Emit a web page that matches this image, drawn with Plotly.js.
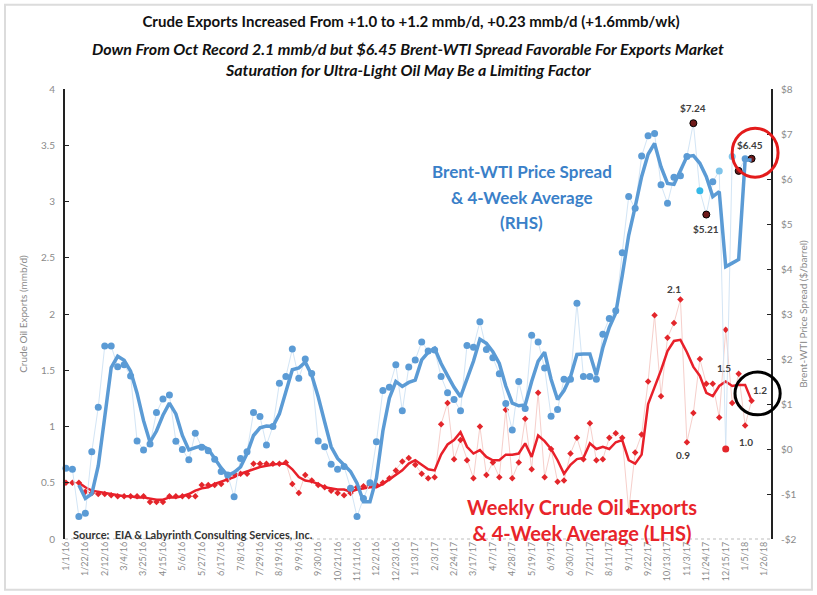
<!DOCTYPE html>
<html>
<head>
<meta charset="utf-8">
<script src="https://cdn.plot.ly/plotly-3.0.1.min.js"></script>
<style>html,body{margin:0;padding:0;background:#fff;}#chart{width:817px;height:595px;}</style>
</head>
<body>
<div id="chart"></div>
<script>
// ---------- DATA ----------
const firstWeek = '2016-01-01';   // weekly observations, one per week
const tickLabels = ['1/1/16','1/22/16','2/12/16','3/4/16','3/25/16','4/15/16','5/6/16','5/27/16','6/17/16','7/8/16','7/29/16','8/19/16','9/9/16','9/30/16','10/21/16','11/11/16','12/2/16','12/23/16','1/13/17','2/3/17','2/24/17','3/17/17','4/7/17','4/28/17','5/19/17','6/9/17','6/30/17','7/21/17','8/11/17','9/1/17','9/22/17','10/13/17','11/3/17','11/24/17','12/15/17','1/5/18','1/26/18'];

// Brent-WTI spread, weekly ($/bbl, RHS)
const spreadWeekly = [-0.43,-0.45,-1.50,-1.43,-0.06,0.93,2.29,2.29,1.83,1.87,
 1.62,0.18,-0.02,0.11,0.81,1.11,1.20,0.17,-0.01,-0.24,
 0.35,0.04,-0.04,-0.23,-0.50,-0.58,-1.06,-0.21,-0.06,0.81,
 0.72,0.09,0.50,1.46,1.61,2.22,1.57,2.00,1.68,0.18,
 0.05,-0.34,-0.45,-0.39,-0.87,-1.50,-1.10,-0.75,0.16,1.30,
 1.37,1.87,0.85,1.82,1.98,2.38,2.18,2.20,1.61,1.25,
 1.10,0.85,2.30,2.26,2.83,2.21,2.03,1.67,1.01,0.42,
 1.50,0.90,2.53,2.38,1.80,0.73,0.88,1.55,1.55,3.24,
 1.61,1.61,1.55,2.55,2.90,3.07,4.36,5.61,5.35,6.51,
 6.96,7.01,5.87,5.46,6.04,6.07,6.50,7.24,5.74,5.21,
 5.94,6.18,0.00,6.50,6.18,6.45,6.45];

// Brent-WTI spread, 4-week average ($/bbl, RHS)
const spreadAvg = [null,null,-0.80,-1.10,-1.00,-0.37,0.71,1.81,2.06,1.97,
 1.73,1.24,0.63,0.15,0.40,0.75,1.02,0.78,0.30,-0.02,
 0.03,0.07,0.00,-0.22,-0.42,-0.59,-0.52,-0.40,-0.10,0.30,
 0.47,0.51,0.50,0.78,1.30,1.76,1.80,1.93,1.64,1.16,
 0.60,0.05,-0.21,-0.36,-0.50,-0.76,-1.17,-1.17,-0.65,0.40,
 1.13,1.50,1.39,1.48,1.53,1.98,2.15,2.24,1.90,1.63,
 1.37,1.16,1.53,1.95,2.44,2.35,2.16,1.90,1.40,1.02,
 0.96,0.98,1.50,1.95,2.15,1.55,1.10,1.30,1.60,2.10,
 2.11,2.11,1.64,2.25,2.70,3.02,3.85,4.75,5.38,6.05,
 6.55,6.79,6.27,5.90,5.88,6.18,6.50,6.52,6.35,6.05,
 5.61,5.72,4.05,4.13,4.21,6.42,6.42];

// Weekly crude oil exports (mmb/d, LHS)
const exportsWeekly = [0.50,0.50,0.50,0.42,0.41,0.40,0.40,0.39,0.38,0.38,
 0.38,0.38,0.38,0.33,0.33,0.33,0.38,0.38,0.38,0.38,
 0.38,0.48,0.48,0.48,0.49,0.53,0.58,0.58,0.58,0.67,
 0.67,0.67,0.67,0.67,0.68,0.49,0.41,0.57,0.52,0.48,
 0.46,0.43,0.41,0.39,0.41,0.46,0.47,0.48,0.48,0.50,
 0.54,0.61,0.69,0.72,0.66,0.58,0.54,0.55,1.02,1.21,
 0.71,0.88,0.70,0.54,1.00,0.57,0.68,0.55,1.15,0.54,
 0.68,1.07,0.62,1.30,0.55,0.80,0.51,0.52,0.76,0.90,
 0.71,1.03,0.70,0.71,0.90,0.94,0.90,0.25,0.77,0.93,
 1.40,1.99,1.27,1.79,1.92,2.13,0.86,1.12,1.60,1.38,
 1.38,1.08,1.86,1.21,1.47,1.01,1.23];

// Exports, 4-week average (mmb/d, LHS)
const exportsAvg = [null,null,0.50,0.46,0.43,0.42,0.41,0.40,0.39,0.38,
 0.38,0.37,0.37,0.36,0.35,0.35,0.37,0.37,0.38,0.40,
 0.43,0.45,0.46,0.49,0.51,0.53,0.55,0.58,0.60,0.62,
 0.64,0.65,0.66,0.67,0.67,0.62,0.55,0.52,0.51,0.49,
 0.46,0.45,0.44,0.44,0.42,0.44,0.45,0.46,0.46,0.49,
 0.53,0.57,0.61,0.67,0.70,0.66,0.62,0.61,0.75,0.84,
 0.88,0.95,0.82,0.76,0.79,0.73,0.70,0.70,0.75,0.75,
 0.76,0.85,0.73,0.92,0.87,0.80,0.70,0.58,0.66,0.71,
 0.72,0.85,0.80,0.82,0.80,0.86,0.88,0.70,0.67,0.75,
 1.20,1.35,1.50,1.67,1.76,1.77,1.66,1.53,1.45,1.30,
 1.27,1.36,1.40,1.36,1.37,1.37,1.23];

const spreadTicks = [-2,-1,0,1,2,3,4,5,6,7,8];
const spreadTickLabels = ['-$2','-$1','$0','$1','$2','$3','$4','$5','$6','$7','$8'];

// ---------- helpers ----------
const DAY = 86400000;
const t0 = Date.parse(firstWeek + 'T00:00:00Z');
const iso = ms => new Date(ms).toISOString().slice(0, 10);
const weeks = spreadWeekly.map((_, i) => iso(t0 + i * 7 * DAY));
const parseLabel = s => { const [m, d, y] = s.split('/').map(Number); return iso(Date.UTC(2000 + y, m - 1, d)); };
const tickDates = tickLabels.map(parseLabel);

// marker styling of highlighted spread points (style only)
const BLUE = '#5b9bd5', DARK = '#6e1a1a', CYAN = '#36b9e8', LIGHT = '#7fc4ea', RED = '#e3262b';
const specialColor = {97: DARK, 99: DARK, 104: DARK, 106: DARK, 98: CYAN, 101: LIGHT, 103: LIGHT, 102: RED};
const spreadColors = spreadWeekly.map((_, i) => specialColor[i] || BLUE);
const spreadLineColors = spreadWeekly.map((_, i) => (specialColor[i] === DARK ? '#000' : 'rgba(0,0,0,0)'));

const FONT = 'Lato, "Open Sans", sans-serif';

const traces = [
  { x: weeks, y: spreadWeekly, yaxis: 'y2', type: 'scatter', mode: 'lines+markers', cliponaxis: false,
    line: { color: '#d3e5f5', width: 1 },
    marker: { color: spreadColors, size: 7, line: { color: spreadLineColors, width: 1 } } },
  { x: weeks, y: exportsWeekly, yaxis: 'y', type: 'scatter', mode: 'lines+markers', cliponaxis: false,
    line: { color: '#f6cfcb', width: 1 },
    marker: { color: RED, size: 5, symbol: 'diamond' } },
  { x: weeks, y: exportsAvg, yaxis: 'y', type: 'scatter', mode: 'lines',
    line: { color: '#e8202a', width: 2.5 } },
  { x: weeks, y: spreadAvg, yaxis: 'y2', type: 'scatter', mode: 'lines',
    line: { color: BLUE, width: 3.5 } }
];

const labelFont = { family: FONT, size: 10, color: '#404040' };
const P = (text, x, y, font, extra) => Object.assign({ text, xref: 'paper', yref: 'paper', x, y,
  xanchor: 'center', yanchor: 'middle', showarrow: false, font }, extra || {});
const titleFont = { family: FONT, size: 16, color: '#111' };
const blueFont = { family: FONT, size: 17, color: '#3a80c8' };
const redFont = { family: FONT, size: 20, color: '#e8242a' };
const D = (text, x, y, yref, xs, ys) => ({ text, x, y, yref, showarrow: false, xanchor: 'center', yanchor: 'middle',
  xshift: xs, yshift: ys, font: labelFont });

const annotations = [
  P('<b><i>Down From Oct Record 2.1 mmb/d but $6.45 Brent-WTI Spread Favorable For Exports Market</i></b>', 0.486, 1.091, titleFont),
  P('<b><i>Saturation for Ultra-Light Oil May Be a Limiting Factor</i></b>', 0.486, 1.044, titleFont),
  P('<b>Brent-WTI Price Spread</b>', 0.647, 0.816, blueFont),
  P('<b>& 4-Week Average</b>', 0.647, 0.760, blueFont),
  P('<b>(RHS)</b>', 0.647, 0.704, blueFont),
  P('<b>Weekly Crude Oil Exports<br>& 4-Week Average (LHS)</b>', 0.732, 0.042, redFont),
  P('<b>Source:  EIA & Labyrinth Consulting Services, Inc.</b>', 0.009, 0.009,
    { family: FONT, size: 11, color: '#333' }, { xanchor: 'left' }),
  D('<b>$7.24</b>', weeks[97], spreadWeekly[97], 'y2', 0, 15),
  D('<b>$5.21</b>', weeks[99], spreadWeekly[99], 'y2', 0, -14),
  D('<b>$6.45</b>', weeks[106], spreadWeekly[106], 'y2', -2, 14),
  D('<b>2.1</b>', weeks[95], exportsWeekly[95], 'y', -6, 10),
  D('<b>0.9</b>', weeks[96], exportsWeekly[96], 'y', -4, -13),
  D('<b>1.5</b>', weeks[102], exportsAvg[102], 'y', -2, 14),
  D('<b>1.2</b>', weeks[106], exportsAvg[106], 'y', 8, 11),
  D('<b>1.0</b>', weeks[105], exportsWeekly[105], 'y', 1, -17)
];

const shapes = [
  { type: 'rect', xref: 'paper', yref: 'paper', x0: -0.085, x1: 1.058, y0: -0.113, y1: 1.187,
    line: { color: '#dcdcdc', width: 2 }, layer: 'below' },
  { type: 'line', xref: 'paper', yref: 'paper', x0: 0, x1: 1, y0: 0, y1: 0,
    line: { color: '#bdbdbd', width: 1, dash: 'dot' } },
  { type: 'circle', xref: 'paper', yref: 'paper', x0: 0.945, x1: 1.010, y0: 0.804, y1: 0.913,
    line: { color: '#e31b1b', width: 3 } },
  { type: 'circle', xref: 'paper', yref: 'paper', x0: 0.949, x1: 1.013, y0: 0.276, y1: 0.371,
    line: { color: '#000', width: 3 } }
];

const layout = {
  width: 817, height: 595,
  margin: { l: 65, r: 46, t: 89, b: 56 },
  paper_bgcolor: '#fff', plot_bgcolor: '#fff',
  showlegend: false,
  font: { family: FONT },
  title: { text: '<b>Crude Exports Increased From +1.0 to +1.2 mmb/d, +0.23 mmb/d (+1.6mmb/wk)</b>',
    x: 411 / 817, xref: 'container', xanchor: 'center', y: 1 - 22 / 595, yanchor: 'middle',
    font: { family: FONT, size: 15, color: '#111' } },
  xaxis: {
    type: 'date', range: [iso(t0 - DAY), iso(t0 + 763 * DAY)],
    tickvals: tickDates, ticktext: tickLabels, tickangle: -90,
    tickfont: { family: FONT, size: 9, color: '#8a8a8a' },
    showgrid: false, zeroline: false, showline: false, ticks: ''
  },
  yaxis: {
    range: [0, 4], dtick: 0.5, showgrid: false, zeroline: false,
    showline: true, linecolor: '#222', linewidth: 2, ticks: 'inside', ticklen: 4, tickcolor: '#222',
    tickfont: { family: FONT, size: 10, color: '#8a8a8a' }, ticklabelstandoff: 6,
    title: { text: 'Crude Oil Exports (mmb/d)', font: { family: FONT, size: 10, color: '#8a8a8a' }, standoff: 12 }
  },
  yaxis2: {
    overlaying: 'y', side: 'right', range: [-2, 8],
    tickvals: spreadTicks, ticktext: spreadTickLabels,
    showgrid: false, zeroline: false,
    showline: true, linecolor: '#222', linewidth: 2, ticks: 'inside', ticklen: 4, tickcolor: '#222',
    tickfont: { family: FONT, size: 10, color: '#8a8a8a' }, ticklabelstandoff: 6,
    title: { text: 'Brent-WTI Price Spread ($/barrel)', font: { family: FONT, size: 10, color: '#8a8a8a' }, standoff: 4 }
  },
  annotations: annotations,
  shapes: shapes
};

Plotly.newPlot('chart', traces, layout, { staticPlot: true, displayModeBar: false });
</script>
</body>
</html>
